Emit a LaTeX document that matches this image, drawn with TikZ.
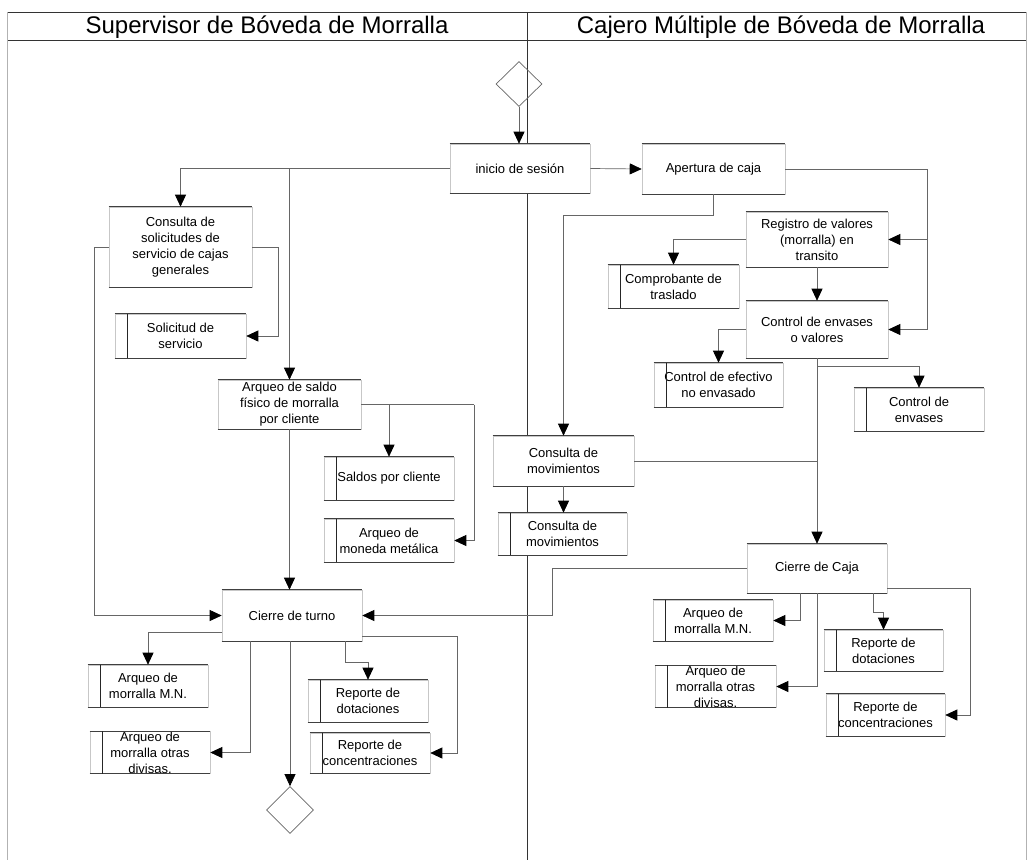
\documentclass[tikz,border=0pt]{standalone}
\usepackage{fontspec}
\setmainfont{Liberation Sans}
\usetikzlibrary{arrows.meta,shapes.geometric,backgrounds}
\begin{document}
\begin{tikzpicture}[x=1pt,y=-1pt,
  boxfont/.style={font=\fontsize{13}{16}\selectfont},
  act/.style={rectangle, draw=black!22, line width=0.6pt, fill=white,
              inner sep=0pt, align=center, boxfont},
  doc/.style={act},
  decision/.style={diamond, draw=black!60, line width=0.7pt, inner sep=0pt},
  conn/.style={draw=black!60, line width=0.7pt},
  flow/.style={conn, -{Triangle[length=12pt,width=11pt,color=black,fill=black]}},
  lane/.style={draw=black!80, line width=0.8pt},
  faint/.style={draw=black!30, line width=0.6pt},
  rule/.style={draw=black!75, line width=0.8pt},
  bar/.style={draw=black!85, line width=1.2pt},
  title/.style={anchor=base, font=\fontsize{24}{28}\selectfont}]

\useasboundingbox (0,0) rectangle (1030,860);

% swimlane headers
\node[title] (tsup) at (267,33) {Supervisor de Bóveda de Morralla};
\node[title] (tcaj) at (781,33) {Cajero Múltiple de Bóveda de Morralla};

% ---------------- Cajero lane ----------------
\node[decision, minimum width=46pt, minimum height=45pt] (st) at (519,84) {};
\node[act, minimum width=140pt, minimum height=49pt] (ini) at (520,168.5) {inicio de sesión};
\node[act, minimum width=143pt, minimum height=50pt] (ape) at (713.5,169) {Apertura de caja};
\node[act, minimum width=142pt, minimum height=55pt] (reg) at (817,239.5) {Registro de valores\\(morralla) en\\transito};
\node[doc, minimum width=131pt, minimum height=43pt] (com) at (673.5,286.5) {Comprobante de\\traslado};
\node[act, minimum width=142pt, minimum height=57pt] (cev) at (817,329.5) {Control de envases\\o valores};
\node[doc, minimum width=129pt, minimum height=44pt] (cef) at (718.5,385) {Control de efectivo\\no envasado};
\node[doc, minimum width=130pt, minimum height=43pt] (cen) at (919,409.5) {Control de\\envases};
\node[act, minimum width=141pt, minimum height=50pt] (cmv) at (563.5,461) {Consulta de\\movimientos};
\node[doc, minimum width=129pt, minimum height=42pt] (cmd) at (562.5,534) {Consulta de\\movimientos};
\node[act, minimum width=140pt, minimum height=49pt] (cca) at (817,568.5) {Cierre de Caja};
\node[doc, minimum width=120pt, minimum height=41pt] (amr) at (713,620.5) {Arqueo de\\morralla M.N.};
\node[doc, minimum width=121pt, minimum height=41pt] (aor) at (715.5,686.5) {Arqueo de\\morralla otras\\divisas.};
\node[doc, minimum width=119pt, minimum height=41pt] (rdr) at (883.5,650.5) {Reporte de\\dotaciones};
\node[doc, minimum width=119pt, minimum height=42pt] (rcr) at (885.5,715) {Reporte de\\concentraciones};

% ---------------- Supervisor lane ----------------
\node[act, minimum width=143pt, minimum height=80pt] (csl) at (180.5,247) {Consulta de\\solicitudes de\\servicio de cajas\\generales};
\node[doc, minimum width=131pt, minimum height=44pt] (sol) at (180.5,336) {Solicitud de\\servicio};
\node[act, minimum width=143pt, minimum height=49pt] (asf) at (289.5,404.5) {Arqueo de saldo\\físico de morralla\\por cliente};
\node[doc, minimum width=130pt, minimum height=43pt] (spc) at (389,478.5) {Saldos por cliente};
\node[doc, minimum width=130pt, minimum height=43pt] (amm) at (389,540.5) {Arqueo de\\moneda metálica};
\node[act, minimum width=140pt, minimum height=51pt] (ctu) at (292,615.5) {Cierre de turno};
\node[doc, minimum width=120pt, minimum height=42pt] (aml) at (148,686) {Arqueo de\\morralla M.N.};
\node[doc, minimum width=120pt, minimum height=41pt] (aol) at (150,752.5) {Arqueo de\\morralla otras\\divisas.};
\node[doc, minimum width=120pt, minimum height=42pt] (rdl) at (368,701) {Reporte de\\dotaciones};
\node[doc, minimum width=120pt, minimum height=40pt] (rcl) at (370,753) {Reporte de\\concentraciones};
\node[decision, minimum width=47pt, minimum height=47pt] (en) at (290,810) {};

% dark top and bottom edges of every box
\foreach \n in {ini,ape,reg,com,cev,cef,cen,cmv,cmd,cca,amr,aor,rdr,rcr,
                csl,sol,asf,spc,amm,ctu,aml,aol,rdl,rcl}
  \draw[rule] (\n.north west) -- (\n.north east) (\n.south west) -- (\n.south east);

% document bar near the left edge
\foreach \n in {com,cef,cen,cmd,amr,aor,rdr,rcr,sol,spc,amm,aml,aol,rdl,rcl}
  \draw[bar] ([xshift=13pt]\n.north west) -- ([xshift=13pt]\n.south west);

% frame and lane divider
\begin{scope}[on background layer]
  \draw[lane] (7,12) -- (1026,12);
  \draw[lane] (7,40) -- (1026,40);
  \draw[lane] (527,12) -- (527,860);
  \draw[faint] (7,12) -- (7,860);
  \draw[faint] (1026,12) -- (1026,860);
\end{scope}

% ---------------- connectors: Cajero lane ----------------
\draw[flow] (st.south) -- (st.south |- ini.north);
\draw[flow] (ini.east) -- (ape.west);
\draw[flow] (ape.east) -| ([xshift=39pt]reg.east) -- (reg.east);
\draw[flow] ([xshift=39pt]reg.east) |- (cev.east);
\draw[flow] (ape.south) -- ++(0,21) -| (cmv.north);
\draw[flow] (reg.west) -| (com.north);
\draw[flow] (reg.south) -- (cev.north);
\draw[flow] (cev.west) -| (cef.north);
\draw[flow] (cev.south) -- ++(0,8) -| (cen.north);
\draw[flow] (cev.south) -- (cca.north);
\draw[conn] (cmv.east) -- (cmv.east -| cca.north);
\draw[flow] (cmv.south) -- (cmv.south |- cmd.north);
\draw[flow] (cca.west) -- ++(-194,0) |- (ctu.east);
\draw[flow] ([xshift=-17pt]cca.south) |- (amr.east);
\draw[flow] (cca.south) |- (aor.east);
\draw[flow] ([xshift=56pt]cca.south) -- ++(0,19) -| (rdr.north);
\draw[flow] ([yshift=5pt]cca.south east) -| ([xshift=25pt]rcr.east) -- (rcr.east);

% ---------------- connectors: Supervisor lane ----------------
\draw[flow] (ini.west) -| (csl.north);
\draw[flow] (ini.west -| asf.north) -- (asf.north);
\draw[flow] (csl.east) -- ++(26.5,0) |- (sol.east);
\draw[flow] (csl.west) -- ++(-14,0) |- (ctu.west);
\draw[flow] (asf.south) -- (asf.south |- ctu.north);
\draw[conn] (asf.east) -- ++(113,0);
\draw[flow] ([xshift=113pt]asf.east) |- (amm.east);
\draw[flow] (asf.east -| spc.north) -- (spc.north);
\draw[flow] ([yshift=-16.5pt]ctu.west) -| (aml.north);
\draw[flow] ([xshift=-42pt]ctu.south) |- (aol.east);
\draw[flow] (en.north |- ctu.south) -- (en.north);
\draw[flow] ([xshift=53pt]ctu.south) -- ++(0,21) -| (rdl.north);
\draw[flow] ([yshift=5pt]ctu.south east) -| ([xshift=27pt]rcl.east) -- (rcl.east);
\end{tikzpicture}
\end{document}
